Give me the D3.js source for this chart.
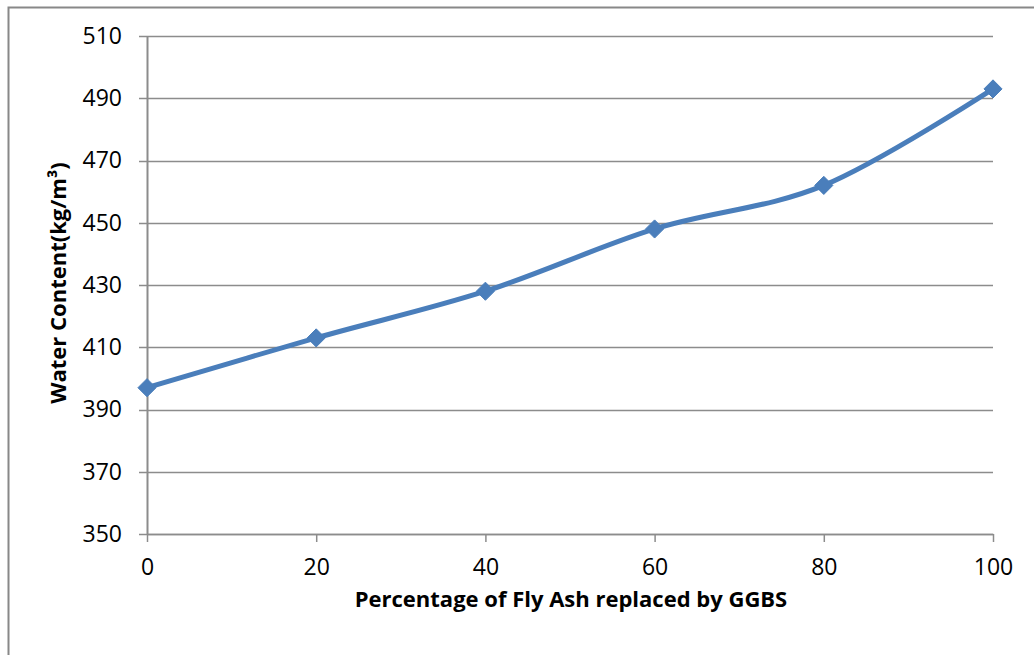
<!DOCTYPE html>
<html>
<head>
<meta charset="utf-8">
<script src="https://cdn.jsdelivr.net/npm/d3@7"></script>
<style>
  body { margin: 0; background: #fff; }
  svg { display: block; font-family: "Open Sans", Lato, sans-serif; }
</style>
</head>
<body>
<svg id="chart" width="1034" height="655"></svg>
<script>
const percentages = [0, 20, 40, 60, 80, 100];
const waterContent = [397, 413, 428, 448, 462, 493];
const yTicks = [350, 370, 390, 410, 430, 450, 470, 490, 510];
const xTicks = [0, 20, 40, 60, 80, 100];

const svg = d3.select("#chart");
const margin = { top: 36, right: 41, bottom: 121, left: 147 };
const width = 1034 - margin.left - margin.right;
const height = 655 - margin.top - margin.bottom;
const font = "'Open Sans', Lato, sans-serif";

// outer chart frame
svg.append("path")
  .attr("d", "M8.5,655 V7.5 H1034")
  .attr("fill", "none")
  .attr("stroke", "#888")
  .attr("stroke-width", 2);

const chart = svg.append("g")
  .attr("transform", `translate(${margin.left},${margin.top})`);

const x = d3.scaleLinear().domain([0, 100]).range([0, width]);
const y = d3.scaleLinear().domain([350, 510]).range([height, 0]);

// gridlines
chart.append("g")
  .selectAll("line")
  .data(yTicks)
  .enter()
  .append("line")
  .attr("x1", -8)
  .attr("x2", width)
  .attr("y1", d => Math.round(y(d)) + 0.5)
  .attr("y2", d => Math.round(y(d)) + 0.5)
  .attr("stroke", "#8c8c8c")
  .attr("stroke-width", 1.5);

// y axis
const yAxis = chart.append("g")
  .call(d3.axisLeft(y).tickValues(yTicks).tickSize(0).tickPadding(25));
yAxis.attr("font-family", font);
yAxis.select(".domain").attr("stroke", "#8c8c8c").attr("stroke-width", 2);
yAxis.selectAll("text").style("font-size", "23px").attr("fill", "#000");

// x axis
const xAxis = chart.append("g")
  .attr("transform", `translate(0,${height})`)
  .call(d3.axisBottom(x).tickValues(xTicks).tickSize(8).tickSizeOuter(0).tickPadding(17));
xAxis.attr("font-family", font);
xAxis.select(".domain").attr("stroke", "#8c8c8c").attr("stroke-width", 1.5);
xAxis.selectAll("line").attr("stroke", "#8c8c8c").attr("stroke-width", 1.5);
xAxis.selectAll("text").style("font-size", "23px").attr("fill", "#000");

// smoothed line
const points = percentages.map((p, i) => ({ x: p, y: waterContent[i] }));
const line = d3.line()
  .x(d => x(d.x))
  .y(d => y(d.y))
  .curve(d3.curveCardinal.tension(0));

chart.append("path")
  .datum(points)
  .attr("d", line)
  .attr("fill", "none")
  .attr("stroke", "#4a7ebb")
  .attr("stroke-width", 5);

// diamond markers
chart.selectAll(".marker")
  .data(points)
  .enter()
  .append("path")
  .attr("class", "marker")
  .attr("transform", d => `translate(${x(d.x)},${y(d.y)})`)
  .attr("d", d3.symbol(d3.symbolDiamond2, 210)())
  .attr("fill", "#4a7ebb")
  .attr("stroke", "#4a7ebb")
  .attr("stroke-width", 1);

// x-axis title
svg.append("text")
  .attr("x", 571)
  .attr("y", 607)
  .attr("text-anchor", "middle")
  .style("font-size", "22px")
  .style("font-weight", "bold")
  .text("Percentage of Fly Ash replaced by GGBS");

// y-axis title
svg.append("text")
  .attr("transform", "rotate(-90)")
  .attr("x", -283)
  .attr("y", 66)
  .attr("text-anchor", "middle")
  .style("font-size", "22px")
  .style("font-weight", "bold")
  .text("Water Content(kg/m³)");
</script>
</body>
</html>
